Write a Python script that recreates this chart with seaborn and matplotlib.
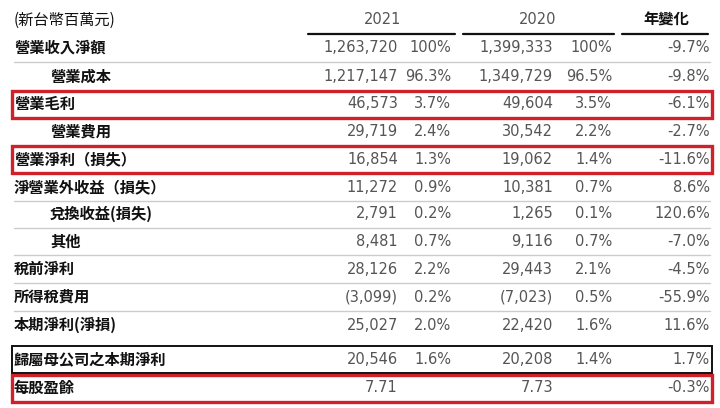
import matplotlib
matplotlib.use('Agg')
import matplotlib.pyplot as plt
import seaborn as sns
from matplotlib.patches import Rectangle

# data
labels = ['營業收入淨額', '營業成本', '營業毛利', '營業費用', '營業淨利（損失）',
          '淨營業外收益（損失）', '兌換收益(損失)', '其他', '稅前淨利', '所得稅費用',
          '本期淨利(淨損)', '歸屬母公司之本期淨利', '每股盈餘']
indented = [False, True, False, True, False, False, True, True, False, False, False, False, False]
val_2021 = ['1,263,720', '1,217,147', '46,573', '29,719', '16,854', '11,272', '2,791',
            '8,481', '28,126', '(3,099)', '25,027', '20,546', '7.71']
pct_2021 = ['100%', '96.3%', '3.7%', '2.4%', '1.3%', '0.9%', '0.2%', '0.7%', '2.2%',
            '0.2%', '2.0%', '1.6%', '']
val_2020 = ['1,399,333', '1,349,729', '49,604', '30,542', '19,062', '10,381', '1,265',
            '9,116', '29,443', '(7,023)', '22,420', '20,208', '7.73']
pct_2020 = ['100%', '96.5%', '3.5%', '2.2%', '1.4%', '0.7%', '0.1%', '0.7%', '2.1%',
            '0.5%', '1.6%', '1.4%', '']
yoy = ['-9.7%', '-9.8%', '-6.1%', '-2.7%', '-11.6%', '8.6%', '120.6%', '-7.0%',
       '-4.5%', '-55.9%', '11.6%', '1.7%', '-0.3%']
headers = ['(新台幣百萬元)', '2021', '2020', '年變化']
red_rows = [2, 4, 12]
black_rows = [11]

sns.set_theme(style='white')
cjk = ['Noto Sans CJK TC', 'Noto Sans CJK JP', 'Noto Sans CJK SC', 'DejaVu Sans']
fig = plt.figure(figsize=(7.2, 4.08), dpi=100)
ax = fig.add_axes([0, 0, 1, 1])
ax.set_xlim(0, 720)
ax.set_ylim(408, 0)
ax.axis('off')

row_y = [48, 76.5, 104, 131.5, 159, 187, 214, 241.5, 269, 297, 325, 359, 388]
num_col = '#555555'
fs = 11
nfs = 10.5

ax.text(14, 20, headers[0], fontsize=fs, family=cjk, va='center', color='#111111')
ax.text(383, 20, headers[1], fontsize=nfs, ha='center', va='center', color=num_col)
ax.text(538, 20, headers[2], fontsize=nfs, ha='center', va='center', color=num_col)
ax.text(666, 20, headers[3], fontsize=fs, family=cjk, ha='center', va='center',
        color='#111111', weight='bold')
for x0, x1 in [(308, 455), (463, 614), (622, 708)]:
    ax.plot([x0, x1], [34, 34], color='#111111', lw=1.6)

for i, lab in enumerate(labels):
    y = row_y[i]
    ax.text(50 if indented[i] else 14, y, lab, fontsize=fs, family=cjk, va='center',
            color='#111111', weight='bold')
    ax.text(398, y, val_2021[i], fontsize=nfs, ha='right', va='center', color=num_col)
    ax.text(451, y, pct_2021[i], fontsize=nfs, ha='right', va='center', color=num_col)
    ax.text(553, y, val_2020[i], fontsize=nfs, ha='right', va='center', color=num_col)
    ax.text(612, y, pct_2020[i], fontsize=nfs, ha='right', va='center', color=num_col)
    ax.text(710, y, yoy[i], fontsize=nfs, ha='right', va='center', color=num_col)
    if i < len(labels) - 1 and i not in red_rows and i + 1 not in red_rows \
            and i not in black_rows and i + 1 not in black_rows:
        yl = (row_y[i] + row_y[i + 1]) / 2
        ax.plot([14, 710], [yl, yl], color='#cccccc', lw=1.0)

for i in red_rows:
    ax.add_patch(Rectangle((12, row_y[i] - 13.5), 700, 27, fill=False,
                           edgecolor='#d0202a', lw=2.4))
for i in black_rows:
    ax.add_patch(Rectangle((12, row_y[i] - 13.5), 700, 27, fill=False,
                           edgecolor='#111111', lw=1.4))

fig.savefig('out.png', dpi=100, facecolor='white')
